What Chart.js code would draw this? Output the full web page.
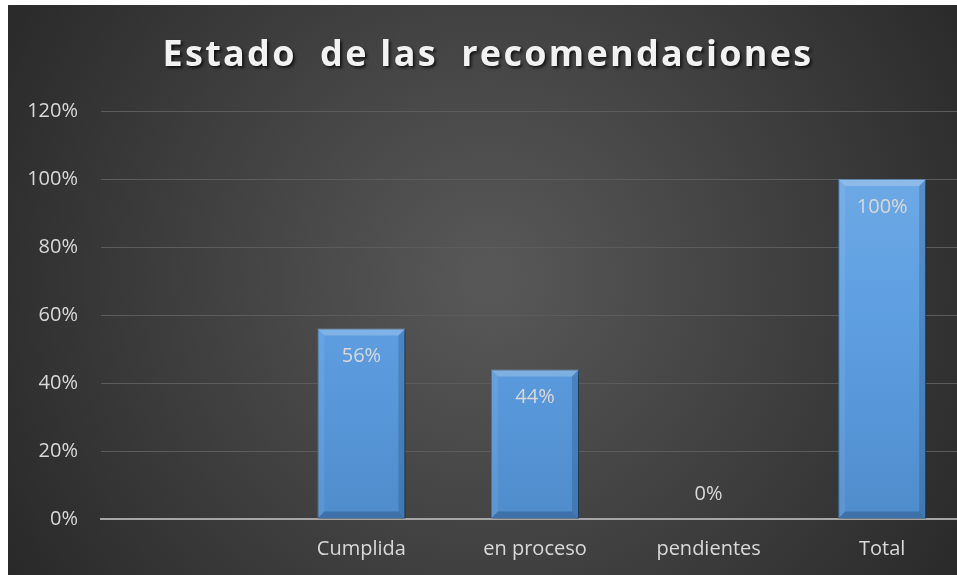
<!DOCTYPE html>
<html lang="es">
<head>
<meta charset="UTF-8">
<title>Estado de las recomendaciones</title>
<script src="https://cdn.jsdelivr.net/npm/chart.js"></script>
<style>
  html, body { margin: 0; padding: 0; background: #fff; overflow: hidden; }
  #wrap { position: absolute; left: 8px; top: 5px; width: 962px; height: 570px; }
</style>
</head>
<body>
<div id="wrap"><canvas id="chart" width="962" height="570"></canvas></div>
<script>
// datos
const categories = ['', 'Cumplida', 'en proceso', 'pendientes', 'Total'];
const values = [null, 56, 44, 0, 100];
const yMax = 120;
const yStep = 20;
const chartTitle = 'Estado  de las  recomendaciones';

const textColor = '#d9d9d9';
const fontFamily = '"Open Sans", "Noto Sans", sans-serif';

// fondo gris oscuro con degradado radial
const backgroundPlugin = {
  id: 'bg',
  beforeDraw(chart) {
    const ctx = chart.ctx;
    const w = chart.width, h = chart.height;
    const g = ctx.createRadialGradient(w * 0.5, h * 0.48, 20, w * 0.5, h * 0.48, w * 0.62);
    g.addColorStop(0, '#575757');
    g.addColorStop(1, '#262626');
    ctx.save();
    ctx.fillStyle = g;
    ctx.fillRect(0, 0, w, h);
    ctx.restore();
  }
};

// titulo con espaciado y sombra
const titlePlugin = {
  id: 'titulo',
  afterDraw(chart) {
    const ctx = chart.ctx;
    ctx.save();
    ctx.font = 'bold 36px ' + fontFamily;
    ctx.letterSpacing = '2.3px';
    ctx.textAlign = 'center';
    ctx.textBaseline = 'alphabetic';
    ctx.shadowColor = 'rgba(0,0,0,0.7)';
    ctx.shadowOffsetX = 2;
    ctx.shadowOffsetY = 2;
    ctx.shadowBlur = 3;
    ctx.fillStyle = '#f2f2f2';
    ctx.fillText(chartTitle, 480, 61);
    ctx.restore();
  }
};

// sombra de las barras
const shadowPlugin = {
  id: 'sombra',
  beforeDatasetsDraw(chart) {
    const ctx = chart.ctx;
    ctx.save();
    ctx.shadowColor = 'rgba(0,0,0,0.55)';
    ctx.shadowOffsetX = 3;
    ctx.shadowOffsetY = 2;
    ctx.shadowBlur = 6;
  },
  afterDatasetsDraw(chart) {
    chart.ctx.restore();
  }
};

// bisel + etiquetas de datos
const bevelLabelPlugin = {
  id: 'bisel',
  afterDatasetsDraw(chart) {
    const ctx = chart.ctx;
    const meta = chart.getDatasetMeta(0);
    ctx.save();
    meta.data.forEach((bar, i) => {
      const v = values[i];
      if (v === null || v === undefined) return;
      const left = bar.x - bar.width / 2;
      const right = bar.x + bar.width / 2;
      const top = bar.y;
      const bottom = bar.base;
      const b = 7;
      if (bottom - top > 2 * b) {
        // arriba claro
        ctx.fillStyle = 'rgba(255,255,255,0.22)';
        ctx.beginPath();
        ctx.moveTo(left, top); ctx.lineTo(right, top);
        ctx.lineTo(right - b, top + b); ctx.lineTo(left + b, top + b);
        ctx.closePath(); ctx.fill();
        // lados
        ctx.fillStyle = 'rgba(20,50,90,0.22)';
        ctx.beginPath();
        ctx.moveTo(right, top); ctx.lineTo(right, bottom);
        ctx.lineTo(right - b, bottom - b); ctx.lineTo(right - b, top + b);
        ctx.closePath(); ctx.fill();
        ctx.fillStyle = 'rgba(255,255,255,0.08)';
        ctx.beginPath();
        ctx.moveTo(left, top); ctx.lineTo(left, bottom);
        ctx.lineTo(left + b, bottom - b); ctx.lineTo(left + b, top + b);
        ctx.closePath(); ctx.fill();
        // abajo oscuro
        ctx.fillStyle = 'rgba(20,50,90,0.3)';
        ctx.beginPath();
        ctx.moveTo(left, bottom); ctx.lineTo(right, bottom);
        ctx.lineTo(right - b, bottom - b); ctx.lineTo(left + b, bottom - b);
        ctx.closePath(); ctx.fill();
      }
      ctx.font = '20px ' + fontFamily;
      ctx.fillStyle = textColor;
      ctx.textAlign = 'center';
      ctx.textBaseline = 'middle';
      const y = v > 0 ? top + 28 : top - 25;
      ctx.fillText(v + '%', bar.x, y);
    });
    ctx.restore();
  }
};

const ctx = document.getElementById('chart').getContext('2d');

new Chart(ctx, {
  type: 'bar',
  data: {
    labels: categories,
    datasets: [{
      data: values,
      backgroundColor(c) {
        const area = c.chart.chartArea;
        if (!area) return '#5b9bd5';
        const g = c.chart.ctx.createLinearGradient(0, area.top, 0, area.bottom);
        g.addColorStop(0, '#74ade6');
        g.addColorStop(0.5, '#5e9fe2');
        g.addColorStop(1, '#4f8ccc');
        return g;
      },
      borderColor: '#3d6c9c',
      borderWidth: 1,
      categoryPercentage: 1,
      barPercentage: 0.507
    }]
  },
  options: {
    responsive: false,
    animation: false,
    layout: { padding: { top: 106, right: 1, left: 0, bottom: 0 } },
    plugins: {
      legend: { display: false },
      title: { display: false },
      tooltip: { enabled: false }
    },
    scales: {
      x: {
        grid: { display: false, drawTicks: false },
        border: { display: true, color: '#a6a6a6', width: 2 },
        ticks: { color: textColor, font: { family: fontFamily, size: 20 }, padding: 18, maxRotation: 0 },
        afterFit(scale) { scale.height = 56; }
      },
      y: {
        min: 0,
        max: yMax,
        grid: { color: '#5c5c5c', lineWidth: 1, drawTicks: false },
        border: { display: false },
        ticks: {
          stepSize: yStep,
          color: textColor,
          font: { family: fontFamily, size: 20 },
          padding: 23,
          callback: v => v + '%'
        },
        afterFit(scale) { scale.width = 93; }
      }
    }
  },
  plugins: [backgroundPlugin, shadowPlugin, bevelLabelPlugin, titlePlugin]
});
</script>
</body>
</html>
